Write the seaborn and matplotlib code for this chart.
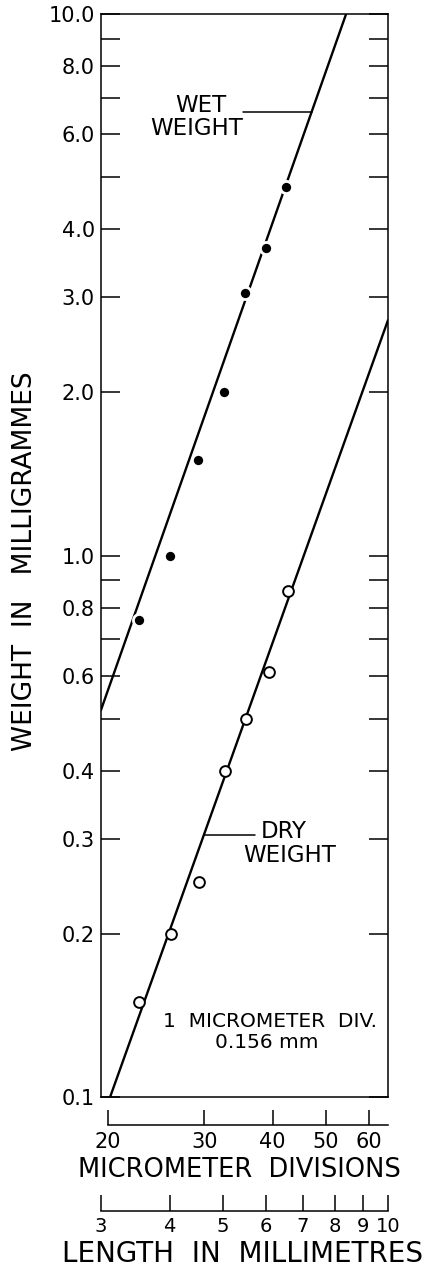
import matplotlib
matplotlib.use("Agg")
import matplotlib.pyplot as plt
from matplotlib.ticker import NullLocator, FixedLocator, FixedFormatter
import seaborn as sns
import pandas as pd

# ---------------- data ----------------
wet_div = [22.8, 26.0, 29.2, 32.6, 35.6, 38.9, 42.3]
wet_mg = [0.76, 1.0, 1.5, 2.0, 3.05, 3.7, 4.8]
dry_div = [22.8, 26.1, 29.4, 32.7, 35.8, 39.4, 42.6]
dry_mg = [0.15, 0.20, 0.25, 0.40, 0.50, 0.61, 0.86]

# fitted (drawn) lines, endpoints in data units
wet_fit_div = [19.44, 54.5]
wet_fit_mg = [0.5185, 10.0]
dry_fit_div = [20.2, 65.0]
dry_fit_mg = [0.1, 2.72]

y_ticks = [0.1, 0.2, 0.3, 0.4, 0.5, 0.6, 0.7, 0.8, 0.9,
           1, 2, 3, 4, 5, 6, 7, 8, 9, 10]
y_tick_labels = ["0.1", "0.2", "0.3", "0.4", "", "0.6", "", "0.8", "",
                 "1.0", "2.0", "3.0", "4.0", "", "6.0", "", "8.0", "", "10.0"]
div_ticks = [20, 30, 40, 50, 60]
div_tick_labels = ["20", "30", "40", "50", "60"]
mm_ticks = [3, 4, 5, 6, 7, 8, 9, 10]
mm_tick_labels = ["3", "4", "5", "6", "7", "8", "9", "10"]

wet_df = pd.DataFrame({"div": wet_div, "mg": wet_mg})
dry_df = pd.DataFrame({"div": dry_div, "mg": dry_mg})
wet_fit = pd.DataFrame({"div": wet_fit_div, "mg": wet_fit_mg})
dry_fit = pd.DataFrame({"div": dry_fit_div, "mg": dry_fit_mg})

# ---------------- style ----------------
sns.set_theme(style="white", rc={
    "axes.edgecolor": "black", "text.color": "black",
    "xtick.color": "black", "ytick.color": "black",
    "axes.labelcolor": "black",
})
plt.rcParams["font.family"] = ["DejaVu Sans"]

W, H = 429, 1269
fig = plt.figure(figsize=(W / 100, H / 100), dpi=100)

# main log-log panel
ax = fig.add_axes([101 / W, 172 / H, 287 / W, 1083 / H])
ax.set_xscale("log")
ax.set_yscale("log")
ax.set_xlim(19.44, 65.0)
ax.set_ylim(0.1, 10)

sns.lineplot(data=wet_fit, x="div", y="mg", ax=ax, color="black",
             linewidth=1.7, estimator=None, sort=False, zorder=2)
sns.lineplot(data=dry_fit, x="div", y="mg", ax=ax, color="black",
             linewidth=1.7, estimator=None, sort=False, zorder=2)
sns.scatterplot(data=wet_df, x="div", y="mg", ax=ax, s=76, color="black",
                edgecolor="white", linewidth=2.0, zorder=3)
sns.scatterplot(data=dry_df, x="div", y="mg", ax=ax, s=60, color="white",
                edgecolor="black", linewidth=1.4, zorder=3)

ax.xaxis.set_major_locator(NullLocator())
ax.xaxis.set_minor_locator(NullLocator())
ax.yaxis.set_major_locator(FixedLocator(y_ticks))
ax.yaxis.set_major_formatter(FixedFormatter(y_tick_labels))
ax.yaxis.set_minor_locator(NullLocator())
ax.tick_params(axis="y", which="major", direction="in", length=13.5,
               width=1.1, left=True, right=True, labelsize=15, pad=4.5)
ax.set_xlabel("")
ax.set_ylabel("")
for sp in ax.spines.values():
    sp.set_linewidth(1.1)

# curve labels
ax.text(29.6, 6.60, "WET", ha="center", va="baseline", fontsize=16.5)
ax.text(29.06, 5.98, "WEIGHT", ha="center", va="baseline", fontsize=16.5)
ax.plot([35.3, 47.2], [6.59, 6.59], color="black", linewidth=1.1)

ax.text(41.98, 0.3008, "DRY", ha="center", va="baseline", fontsize=16.5)
ax.text(43.05, 0.2716, "WEIGHT", ha="center", va="baseline", fontsize=16.5)
ax.plot([29.98, 37.16], [0.3046, 0.3046], color="black", linewidth=1.1)

ax.text(39.58, 0.1348, "1  MICROMETER  DIV.", ha="center", va="baseline",
        fontsize=14.5)
ax.text(39.0, 0.1232, "0.156 mm", ha="center", va="baseline", fontsize=14.5)

# micrometer divisions scale
ax_div = fig.add_axes([101 / W, 144 / H, 287 / W, 10 / H])
ax_div.set_xscale("log")
ax_div.set_xlim(19.44, 65.0)
ax_div.patch.set_alpha(0)
for k in ("top", "left", "right"):
    ax_div.spines[k].set_visible(False)
ax_div.spines["bottom"].set_bounds(20, 65.0)
ax_div.spines["bottom"].set_linewidth(1.1)
ax_div.yaxis.set_major_locator(NullLocator())
ax_div.xaxis.set_major_locator(FixedLocator(div_ticks))
ax_div.xaxis.set_major_formatter(FixedFormatter(div_tick_labels))
ax_div.xaxis.set_minor_locator(NullLocator())
ax_div.tick_params(axis="x", direction="in", length=10.8, width=1.1,
                   labelsize=15, pad=5.0, bottom=True)

# millimetre scale
ax_mm = fig.add_axes([101 / W, 58 / H, 287 / W, 10 / H])
ax_mm.set_xscale("log")
ax_mm.set_xlim(3, 10)
ax_mm.patch.set_alpha(0)
for k in ("top", "left", "right"):
    ax_mm.spines[k].set_visible(False)
ax_mm.spines["bottom"].set_linewidth(1.1)
ax_mm.yaxis.set_major_locator(NullLocator())
ax_mm.xaxis.set_major_locator(FixedLocator(mm_ticks))
ax_mm.xaxis.set_major_formatter(FixedFormatter(mm_tick_labels))
ax_mm.xaxis.set_minor_locator(NullLocator())
ax_mm.tick_params(axis="x", direction="in", length=11.5, width=1.1,
                  labelsize=14, pad=4.5, bottom=True)

# axis titles
fig.text(239.5 / W, 1 - 1177 / H, "MICROMETER  DIVISIONS", ha="center",
         va="baseline", fontsize=18.5)
fig.text(242.5 / W, 1 - 1262 / H, "LENGTH  IN  MILLIMETRES", ha="center",
         va="baseline", fontsize=20)
fig.text(32 / W, 1 - 561 / H, "WEIGHT  IN   MILLIGRAMMES", rotation=90,
         rotation_mode="anchor", ha="center", va="baseline", fontsize=19)

fig.savefig("out.png", dpi=100)
